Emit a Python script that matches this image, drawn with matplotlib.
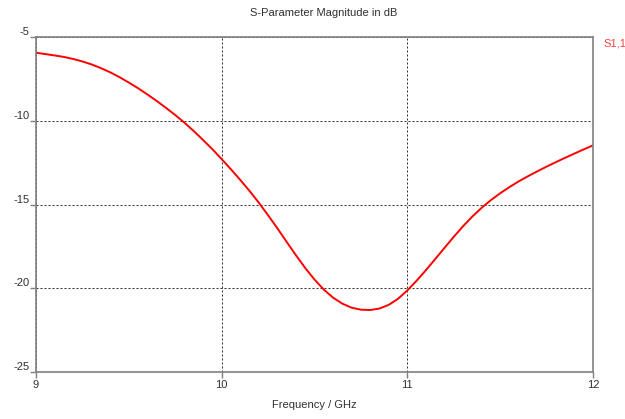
import matplotlib
matplotlib.use("Agg")
import matplotlib.pyplot as plt

freq_ghz = [9.00, 9.05, 9.10, 9.15, 9.20, 9.25, 9.30, 9.35, 9.40, 9.45,
            9.50, 9.55, 9.60, 9.65, 9.70, 9.75, 9.80, 9.85, 9.90, 9.95,
            10.00, 10.05, 10.10, 10.15, 10.20, 10.25, 10.30, 10.35, 10.40, 10.45,
            10.50, 10.55, 10.60, 10.65, 10.70, 10.75, 10.80, 10.85, 10.90, 10.95,
            11.00, 11.05, 11.10, 11.15, 11.20, 11.25, 11.30, 11.35, 11.40, 11.45,
            11.50, 11.55, 11.60, 11.65, 11.70, 11.75, 11.80, 11.85, 11.90, 11.95, 12.00]
s11_db = [-5.94, -6.02, -6.10, -6.19, -6.31, -6.46, -6.64, -6.86, -7.11, -7.40,
          -7.72, -8.06, -8.43, -8.82, -9.23, -9.66, -10.12, -10.62, -11.15, -11.70,
          -12.29, -12.90, -13.53, -14.19, -14.89, -15.64, -16.42, -17.23, -18.03, -18.79,
          -19.48, -20.08, -20.56, -20.92, -21.16, -21.28, -21.30, -21.21, -20.99, -20.63,
          -20.13, -19.55, -18.92, -18.26, -17.59, -16.93, -16.30, -15.72, -15.20, -14.74,
          -14.33, -13.96, -13.62, -13.31, -13.02, -12.74, -12.47, -12.21, -11.96, -11.71, -11.47]
x_ticks = [9, 10, 11, 12]
y_ticks = [-25, -20, -15, -10, -5]
title = "S-Parameter Magnitude in dB"
x_label = "Frequency / GHz"
series_name = "S1,1"

plt.rcParams['font.family'] = ['Liberation Sans', 'DejaVu Sans']
W, H = 625, 419
fig = plt.figure(figsize=(W/100, H/100), dpi=100)
L, R, T, B = 36, 593, 37, 372
ax = fig.add_axes([L/W, 1-B/H, (R-L)/W, (B-T)/H])

ax.plot(freq_ghz, s11_db, color='#ff0000', lw=1.4, solid_capstyle='round',
        solid_joinstyle='round')
ax.set_xlim(9, 12)
ax.set_ylim(-25, -5)
ax.set_xticks(x_ticks)
ax.set_yticks(y_ticks)
ax.set_xticklabels([str(v) for v in x_ticks])
ax.set_yticklabels(['' for v in y_ticks])
for v in y_ticks:
    ax.text(-0.012, (v+25)/20, str(v), transform=ax.transAxes, ha='right', va='bottom',
            fontsize=8, color='#303030')
ax.tick_params(axis='both', direction='out', length=4, width=1, color='#808080',
               labelsize=8, labelcolor='#303030', pad=2)
for s in ax.spines.values():
    s.set_color('#808080')
    s.set_linewidth(1.2)
ax.grid(True, color='#303030', linestyle=(0, (2, 2)), linewidth=0.72)
ax.set_axisbelow(True)

fig.text(324/W, 1-12.5/H, title, ha='center', va='center', fontsize=8, color='#303030')
fig.text(314/W, 1-405/H, x_label, ha='center', va='center', fontsize=8, color='#303030')
fig.text(603/W, 1-44/H, series_name, ha='left', va='center', fontsize=8, color='#ff4040')

fig.savefig('out.png', dpi=100)
